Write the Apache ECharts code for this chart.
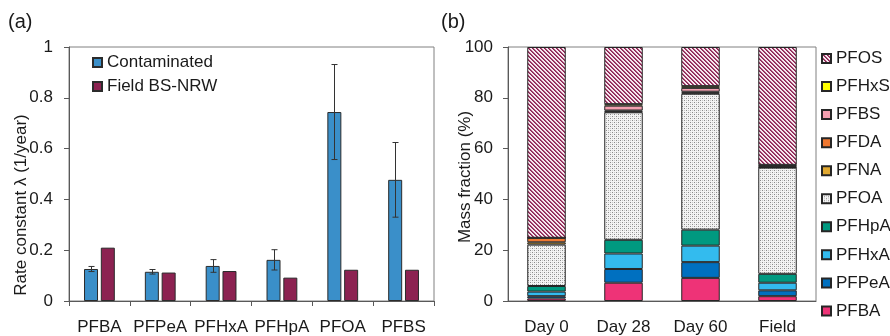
<!DOCTYPE html>
<html>
<head>
<meta charset="utf-8">
<script src="https://cdn.jsdelivr.net/npm/echarts@6/dist/echarts.min.js"></script>
<style>
html,body{margin:0;padding:0;background:#fff;}
#chart{width:890px;height:336px;}
</style>
</head>
<body>
<div id="chart"></div>
<script>
// ---------- Panel (a) data ----------
const categoriesA = ['PFBA', 'PFPeA', 'PFHxA', 'PFHpA', 'PFOA', 'PFBS'];
const contaminated = [0.126, 0.115, 0.138, 0.162, 0.744, 0.477];
const contaminatedErr = [0.010, 0.009, 0.025, 0.040, 0.187, 0.147];
const fieldBSNRW = [0.210, 0.112, 0.118, 0.092, 0.123, 0.123];
const yTicksA = [0, 0.2, 0.4, 0.6, 0.8, 1];

// ---------- Panel (b) data ----------
const categoriesB = ['Day 0', 'Day 28', 'Day 60', 'Field'];
const PFBA  = [1.0, 7.2, 9.1, 1.9];
const PFPeA = [0.9, 5.4, 6.2, 2.3];
const PFHxA = [1.8, 6.1, 6.5, 3.0];
const PFHpA = [2.2, 5.4, 6.3, 3.5];
const PFOA  = [16.3, 50.2, 53.5, 41.8];
const PFNA  = [0.9, 0.3, 0.4, 0.2];
const PFDA  = [1.8, 0.4, 0.4, 0.3];
const PFBS  = [0, 1.9, 1.5, 0.4];
const PFHxS = [0, 0.6, 0.7, 0.2];
const PFOS  = [75.1, 22.5, 15.4, 46.4];
const yTicksB = [0, 20, 40, 60, 80, 100];

// ---------- patterns ----------
function stripePattern() {
  const c = document.createElement('canvas');
  c.width = 8; c.height = 8;
  const ctx = c.getContext('2d');
  ctx.fillStyle = '#f6e8ee';
  ctx.fillRect(0, 0, 8, 8);
  for (let x = 0; x < 8; x++) {
    for (let y = 0; y < 8; y++) {
      const m = ((x - y) % 4 + 4) % 4;
      if (m === 0) { ctx.fillStyle = '#8a2453'; ctx.fillRect(x, y, 1, 1); }
      else if (m === 1) { ctx.fillStyle = '#a84a74'; ctx.fillRect(x, y, 1, 1); }
    }
  }
  return c;
}
function dotPattern() {
  const c = document.createElement('canvas');
  c.width = 4; c.height = 4;
  const ctx = c.getContext('2d');
  ctx.fillStyle = '#f4f4f4';
  ctx.fillRect(0, 0, 4, 4);
  ctx.fillStyle = '#8a8a8a';
  ctx.fillRect(0, 0, 1, 1);
  ctx.fillRect(2, 2, 1, 1);
  ctx.fillStyle = '#c8c8c8';
  ctx.fillRect(2, 0, 1, 1);
  ctx.fillRect(0, 2, 1, 1);
  return c;
}

const FONT = 'Liberation Sans';
const txt = '#1a1a1a';
const axisCol = '#595959';

const chart = echarts.init(document.getElementById('chart'), null, {renderer: 'canvas'});

const barW = 14;
const gapPct = '20%';

const stackDefs = [
  ['PFBA', PFBA, '#ee3377'],
  ['PFPeA', PFPeA, '#0070c0'],
  ['PFHxA', PFHxA, '#33bbee'],
  ['PFHpA', PFHpA, '#009980'],
  ['PFOA', PFOA, {image: dotPattern(), repeat: 'repeat'}],
  ['PFNA', PFNA, '#e0a830'],
  ['PFDA', PFDA, '#f07830'],
  ['PFBS', PFBS, '#f4a0b0'],
  ['PFHxS', PFHxS, '#ffff00'],
  ['PFOS', PFOS, {image: stripePattern(), repeat: 'repeat'}]
];

const stackSeries = stackDefs.map(d => ({
  name: d[0],
  type: 'bar',
  stack: 'b',
  xAxisIndex: 1,
  yAxisIndex: 1,
  barWidth: '50%',
  data: d[1],
  itemStyle: {color: d[2], borderColor: '#262626', borderWidth: 1},
  emphasis: {disabled: true}
}));

const option = {
  animation: false,
  backgroundColor: '#fff',
  textStyle: {fontFamily: FONT},
  grid: [
    {left: 69, right: 456, top: 47, bottom: 29, show: true, borderColor: '#808080', borderWidth: 1, backgroundColor: 'transparent'},
    {left: 508, right: 74, top: 47, bottom: 29, show: true, borderColor: '#808080', borderWidth: 1, backgroundColor: 'transparent'}
  ],
  legend: [
    {
      data: ['Contaminated', 'Field BS-NRW'],
      orient: 'vertical',
      left: 92, top: 54,
      padding: 0,
      icon: 'rect',
      itemWidth: 9, itemHeight: 9,
      itemGap: 7,
      textStyle: {fontFamily: FONT, fontSize: 17, color: txt, lineHeight: 17}
    },
    {
      data: ['PFOS', 'PFHxS', 'PFBS', 'PFDA', 'PFNA', 'PFOA', 'PFHpA', 'PFHxA', 'PFPeA', 'PFBA'],
      orient: 'vertical',
      left: 821, top: 50,
      padding: 0,
      icon: 'rect',
      itemWidth: 9, itemHeight: 9,
      itemGap: 11.05,
      textStyle: {fontFamily: FONT, fontSize: 17, color: txt, lineHeight: 17}
    }
  ],
  xAxis: [
    {
      type: 'category', gridIndex: 0, data: categoriesA,
      axisLine: {lineStyle: {color: axisCol, width: 1}},
      axisTick: {show: true, length: 5, lineStyle: {color: axisCol}},
      axisLabel: {fontFamily: FONT, fontSize: 17, color: txt, margin: 18, interval: 0}
    },
    {
      type: 'category', gridIndex: 1, data: categoriesB,
      axisLine: {lineStyle: {color: axisCol, width: 1}},
      axisTick: {show: false},
      axisLabel: {fontFamily: FONT, fontSize: 17, color: txt, margin: 18, interval: 0}
    }
  ],
  yAxis: [
    {
      type: 'value', gridIndex: 0, min: yTicksA[0], max: yTicksA[yTicksA.length - 1], interval: 0.2,
      axisLine: {show: true, lineStyle: {color: axisCol, width: 1}},
      axisTick: {show: true, length: 5, lineStyle: {color: axisCol}},
      splitLine: {show: false},
      axisLabel: {fontFamily: FONT, fontSize: 17, color: txt, margin: 16}
    },
    {
      type: 'value', gridIndex: 1, min: yTicksB[0], max: yTicksB[yTicksB.length - 1], interval: 20,
      axisLine: {show: true, lineStyle: {color: axisCol, width: 1}},
      axisTick: {show: true, length: 5, lineStyle: {color: axisCol}},
      splitLine: {show: false},
      axisLabel: {fontFamily: FONT, fontSize: 17, color: txt, margin: 15}
    }
  ],
  series: [
    {
      name: 'Contaminated', type: 'bar', xAxisIndex: 0, yAxisIndex: 0,
      barWidth: barW, barGap: gapPct,
      data: contaminated,
      itemStyle: {color: '#3a8fc9', borderColor: '#2b2b2b', borderWidth: 1},
      emphasis: {disabled: true}
    },
    {
      name: 'Field BS-NRW', type: 'bar', xAxisIndex: 0, yAxisIndex: 0,
      barWidth: barW, barGap: gapPct,
      data: fieldBSNRW,
      itemStyle: {color: '#8c2251', borderColor: '#2b2b2b', borderWidth: 1},
      emphasis: {disabled: true}
    },
    {
      name: 'err', type: 'custom', xAxisIndex: 0, yAxisIndex: 0,
      data: contaminated.map((v, i) => [i, v - contaminatedErr[i], v + contaminatedErr[i]]),
      z: 10,
      renderItem: function (params, api) {
        const i = api.value(0);
        const lo = api.coord([i, api.value(1)]);
        const hi = api.coord([i, api.value(2)]);
        const off = -(barW + barW * 0.2) / 2;
        const x = Math.round(lo[0] + off) + 0.5;
        const cap = 3;
        const st = {stroke: '#333', lineWidth: 1, fill: null};
        return {
          type: 'group',
          children: [
            {type: 'line', shape: {x1: x, y1: hi[1], x2: x, y2: lo[1]}, style: st},
            {type: 'line', shape: {x1: x - cap, y1: hi[1], x2: x + cap, y2: hi[1]}, style: st},
            {type: 'line', shape: {x1: x - cap, y1: lo[1], x2: x + cap, y2: lo[1]}, style: st}
          ]
        };
      }
    }
  ].concat(stackSeries),
  graphic: [
    {type: 'text', left: 8, top: 12, style: {text: '(a)', font: '20px "Liberation Sans"', fill: txt}},
    {type: 'text', left: 441, top: 12, style: {text: '(b)', font: '20px "Liberation Sans"', fill: txt}},
    {type: 'text', x: 21, y: 205, rotation: Math.PI / 2,
     style: {text: 'Rate constant λ (1/year)', font: '17px "Liberation Sans"', fill: txt, align: 'center', verticalAlign: 'middle'}},
    {type: 'text', x: 465, y: 177, rotation: Math.PI / 2,
     style: {text: 'Mass fraction (%)', font: '17px "Liberation Sans"', fill: txt, align: 'center', verticalAlign: 'middle'}}
  ]
};

chart.setOption(option);
</script>
</body>
</html>
